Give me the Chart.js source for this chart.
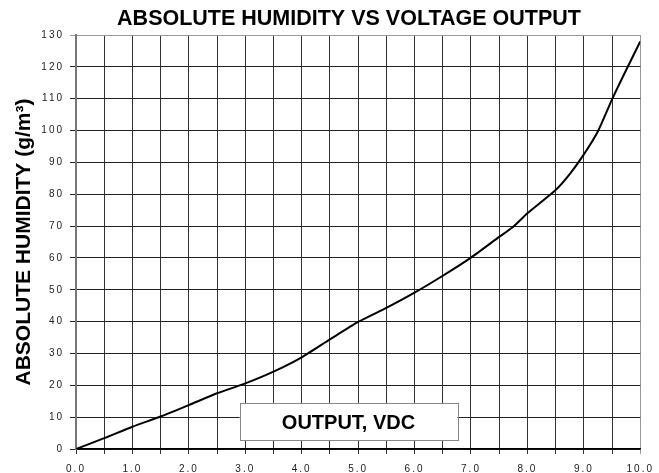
<!DOCTYPE html>
<html>
<head>
<meta charset="utf-8">
<script src="https://cdn.jsdelivr.net/npm/chart.js@4"></script>
<style>
  body { margin: 0; background: #fff; }
  canvas { display: block; }
</style>
</head>
<body>
<canvas id="HumidityChart" width="659" height="473"></canvas>
<script>
let Voltage = [0, 0.5, 1, 1.5, 2, 2.5, 3, 3.5, 4, 4.5, 5, 5.5, 6, 6.5, 7, 7.5, 7.75, 8, 8.5, 8.75, 9, 9.25, 9.5, 9.75, 10];
let Humidity = [0, 3.4, 7, 10.2, 13.8, 17.5, 20.6, 24.3, 28.8, 34.4, 39.9, 44.3, 49.1, 54.4, 60.1, 66.6, 69.8, 74, 81.3, 86.3, 92.5, 99.8, 109.8, 119, 128];

const chartTitle = "ABSOLUTE HUMIDITY VS VOLTAGE OUTPUT";
const yTitle = "ABSOLUTE HUMIDITY (g/m³)";
const xTitle = "OUTPUT, VDC";

const fontName = "'Liberation Sans', Arial, sans-serif";

// tick labels in the original are spaced out a bit
class SpacedLinearScale extends Chart.LinearScale {
    drawLabels(chartArea) {
        this.ctx.save();
        this.ctx.letterSpacing = "2px";
        super.drawLabels(chartArea);
        this.ctx.restore();
    }
}
SpacedLinearScale.id = "spacedLinear";
SpacedLinearScale.defaults = Chart.LinearScale.defaults;
Chart.register(SpacedLinearScale);

// main title is centred a little left of the plot, so draw it by hand
const topTitle = {
    id: "topTitle",
    afterDraw(chart) {
        const ctx = chart.ctx;
        ctx.save();
        ctx.fillStyle = "#000";
        ctx.font = "bold 21.5px " + fontName;
        ctx.textAlign = "center";
        ctx.textBaseline = "middle";
        ctx.fillText(chartTitle, 349, 19);
        ctx.restore();
    }
};

// x axis title sits in a box inside the plot
const outputBox = {
    id: "outputBox",
    afterDraw(chart) {
        const ctx = chart.ctx;
        const x = chart.scales.x, y = chart.scales.y;
        const left = x.getPixelForValue(2.9), right = x.getPixelForValue(6.76);
        const top = y.getPixelForValue(14.35), bottom = y.getPixelForValue(2.6);
        ctx.save();
        ctx.fillStyle = "#fff";
        ctx.fillRect(left, top, right - left, bottom - top);
        ctx.strokeStyle = "#888";
        ctx.lineWidth = 1;
        ctx.strokeRect(Math.round(left) + 0.5, Math.round(top) + 0.5, Math.round(right - left), Math.round(bottom - top));
        ctx.fillStyle = "#000";
        ctx.font = "bold 20px " + fontName;
        ctx.textAlign = "center";
        ctx.textBaseline = "middle";
        ctx.fillText(xTitle, (left + right) / 2, (top + bottom) / 2 + 1);
        ctx.restore();
    }
};

new Chart("HumidityChart", {
    type: "line",
    data: {
        datasets: [{
            data: Voltage.map((v, i) => ({x: v, y: Humidity[i]})),
            borderColor: "#000",
            borderWidth: 2,
            pointRadius: 0,
            tension: 0.2,
            fill: false
        }]
    },
    options: {
        responsive: false,
        animation: false,
        devicePixelRatio: 1,
        layout: {padding: {left: 0, right: 15, top: 35, bottom: 0}},
        plugins: {
            legend: {display: false},
            tooltip: {enabled: false},
            title: {display: false}
        },
        scales: {
            x: {
                type: "spacedLinear",
                min: 0,
                max: 10,
                afterFit: (scale) => { scale.height = 24; },
                ticks: {
                    stepSize: 0.5,
                    autoSkip: false,
                    maxRotation: 0,
                    padding: 9,
                    color: "#222",
                    font: {family: fontName, size: 10},
                    callback: (v) => (v % 1 === 0 ? v.toFixed(1) : "")
                },
                grid: {
                    color: (c) => (c.tick && c.tick.value === 10 ? "#999" : "#333"),
                    lineWidth: 1,
                    tickLength: 5
                },
                border: {color: "#000", width: 1.5}
            },
            y: {
                type: "spacedLinear",
                min: 0,
                max: 130,
                afterFit: (scale) => { scale.width = 76; },
                title: {
                    display: true,
                    text: yTitle,
                    color: "#000",
                    font: {family: fontName, size: 21, weight: "bold"},
                    padding: {top: 12, bottom: 0}
                },
                ticks: {
                    stepSize: 10,
                    padding: 6,
                    color: "#222",
                    font: {family: fontName, size: 10}
                },
                grid: {
                    color: (c) => (c.tick && c.tick.value === 130 ? "#999" : "#222"),
                    lineWidth: 1,
                    tickLength: 6
                },
                border: {color: "#777", width: 2}
            }
        }
    },
    plugins: [topTitle, outputBox]
});
</script>
</body>
</html>
